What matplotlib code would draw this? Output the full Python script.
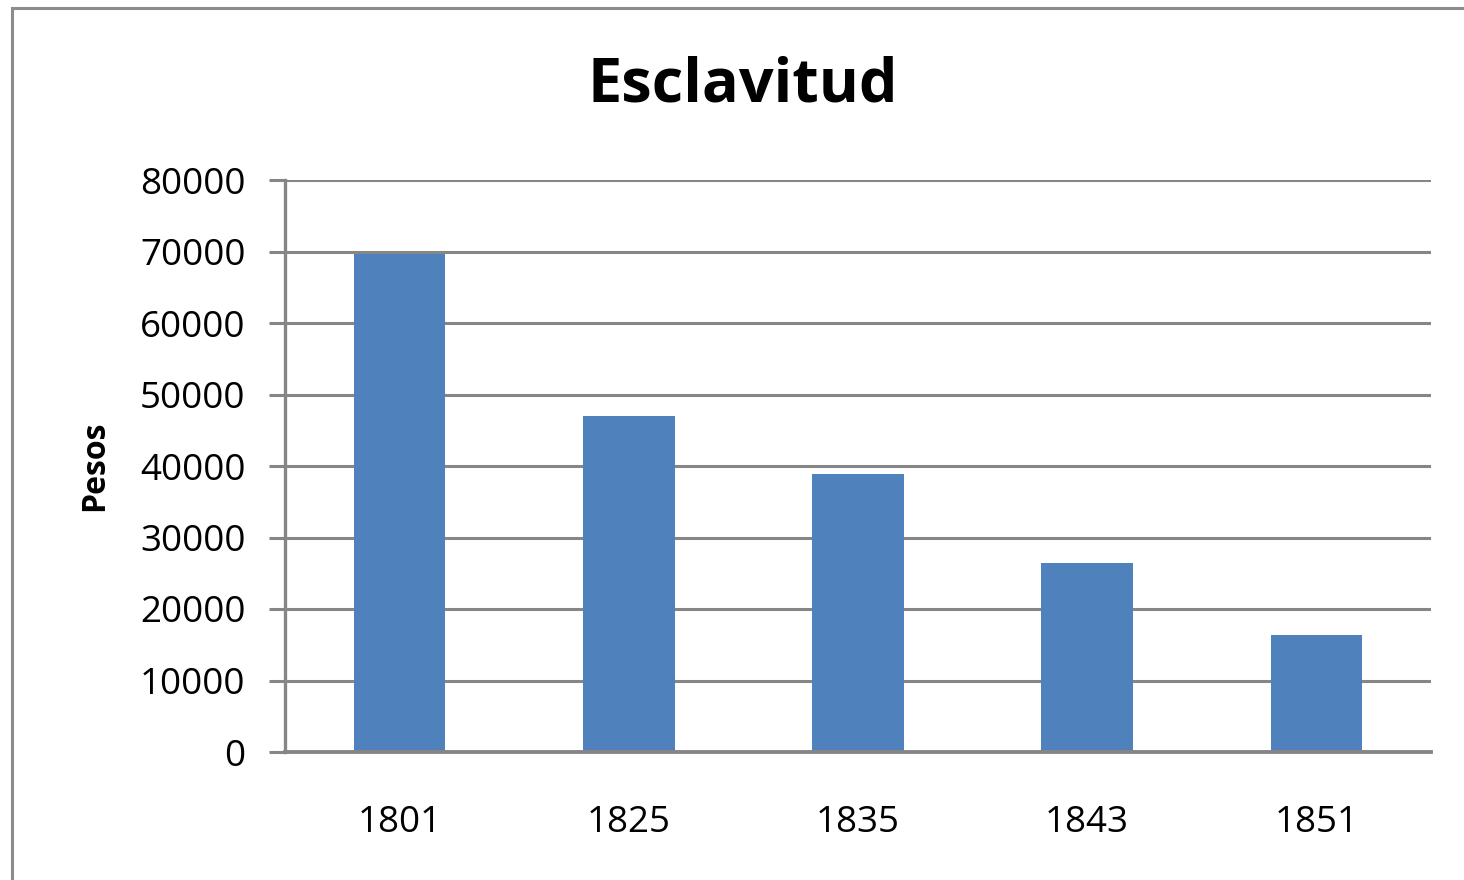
import matplotlib.pyplot as plt
from matplotlib.patches import Rectangle

# data
years = ['1801', '1825', '1835', '1843', '1851']
pesos = [69600, 47000, 38900, 26500, 16300]
yticks = [0, 10000, 20000, 30000, 40000, 50000, 60000, 70000, 80000]

plt.rcParams['font.family'] = ['Open Sans', 'DejaVu Sans']

fig = plt.figure(figsize=(14.64, 8.8), dpi=100)
ax = fig.add_axes([285 / 1464, 1 - 752 / 880, 1146 / 1464, 572 / 880])

grid_col = '#868686'
x = range(len(years))
ax.bar(x, pesos, width=0.4, color='#4F81BD', zorder=3)

ax.set_xlim(-0.5, len(years) - 0.5)
ax.set_ylim(0, 80000)
ax.set_yticks(yticks)
ax.set_yticklabels([str(v) for v in yticks], fontsize=26.5)
ax.set_xticks(list(x))
ax.set_xticklabels(years, fontsize=26.5)
ax.tick_params(axis='x', length=0, pad=38)
ax.tick_params(axis='y', length=11.5, width=2.2, color=grid_col, pad=17)

ax.grid(axis='y', color=grid_col, linewidth=2.2, zorder=0)
for s in ['top', 'right']:
    ax.spines[s].set_visible(False)
ax.spines['left'].set_color(grid_col)
ax.spines['left'].set_linewidth(2.4)
ax.spines['bottom'].set_color(grid_col)
ax.spines['bottom'].set_linewidth(2.8)
ax.spines['bottom'].set_zorder(4)

ax.set_ylabel('Pesos', fontsize=23, fontweight='bold')
ax.yaxis.set_label_coords(-0.152, 0.5)

fig.text(743 / 1464, 1 - 86 / 880, 'Esclavitud', fontsize=44, fontweight='bold',
         ha='center', va='center')

# outer chart border (cut off on the right and bottom)
fig.patches.append(Rectangle((12 / 1464, -0.1), 1.2, 1 - 8 / 880 + 0.1,
                             transform=fig.transFigure, fill=False,
                             edgecolor='#8c8c8c', linewidth=2.2, zorder=0))

fig.savefig('out.png', dpi=100)
